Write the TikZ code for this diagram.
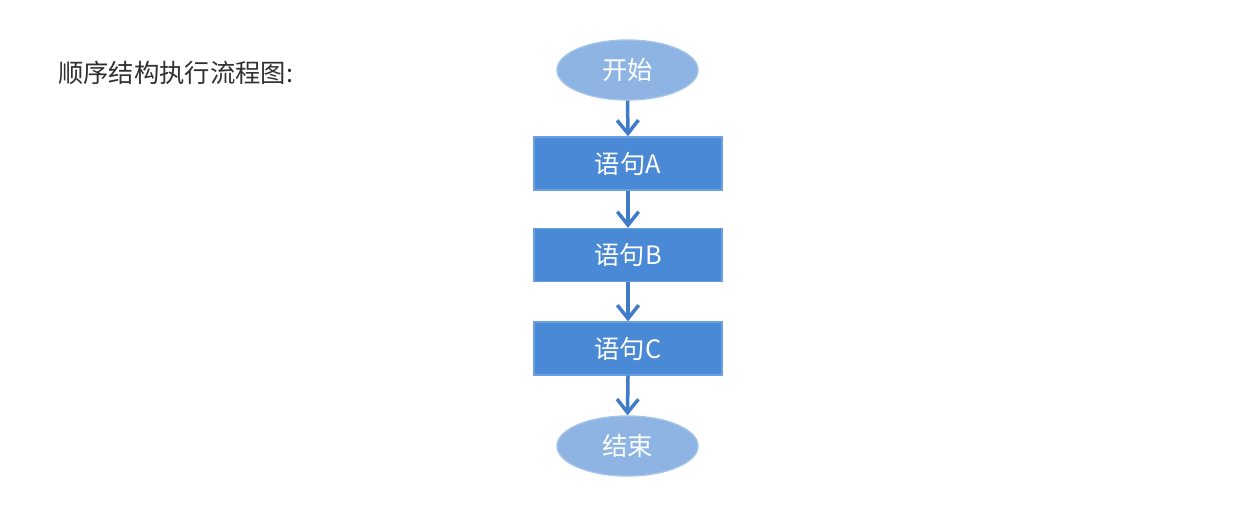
\documentclass[tikz,border=0pt]{standalone}
\usepackage{fontspec}
\setmainfont{Noto Sans CJK SC}
\usetikzlibrary{shapes.geometric,arrows.meta}
\definecolor{ellfill}{HTML}{8DB4E2}
\definecolor{ellline}{HTML}{A4C4EA}
\definecolor{boxfill}{HTML}{4A89D6}
\definecolor{boxline}{HTML}{6A9FE0}
\definecolor{arrcol}{HTML}{3F7BC9}
\definecolor{titlecol}{HTML}{303030}
\tikzset{
  termnode/.style={ellipse, draw=ellline, line width=1pt, fill=ellfill, minimum width=141*0.75pt, minimum height=60*0.75pt, inner sep=0pt, text=white, font=\fontsize{19}{22}\selectfont},
  stepbox/.style={rectangle, draw=boxline, line width=1pt, fill=boxfill, minimum width=188*0.75pt, minimum height=53*0.75pt, inner sep=0pt, text=white, font=\fontsize{19}{22}\selectfont},
  flowarrow/.style={draw=arrcol, line width=3.5*0.75pt, -{Straight Barb[length=10pt, width=16pt, line width=3.5*0.75pt]}}
}
\begin{document}
\begin{tikzpicture}[x=0.75pt, y=-0.75pt]
\useasboundingbox[fill=white] (0,0) rectangle (1237,517);
\node[anchor=west, text=titlecol, font=\fontsize{19}{22}\selectfont, inner sep=0pt] (title) at (58,73) {顺序结构执行流程图:};
\node[termnode] (start) at (627.5,70) {开始};
\node[stepbox] (a) at (628,163.5) {语句A};
\node[stepbox] (b) at (628,255) {语句B};
\node[stepbox] (c) at (628,348.5) {语句C};
\node[termnode] (end) at (627.5,446) {结束};
\draw[flowarrow] (start.south) -- (a.north);
\draw[flowarrow] (a.south) -- (b.north);
\draw[flowarrow] (b.south) -- (c.north);
\draw[flowarrow] (c.south) -- (end.north);
\end{tikzpicture}
\end{document}
